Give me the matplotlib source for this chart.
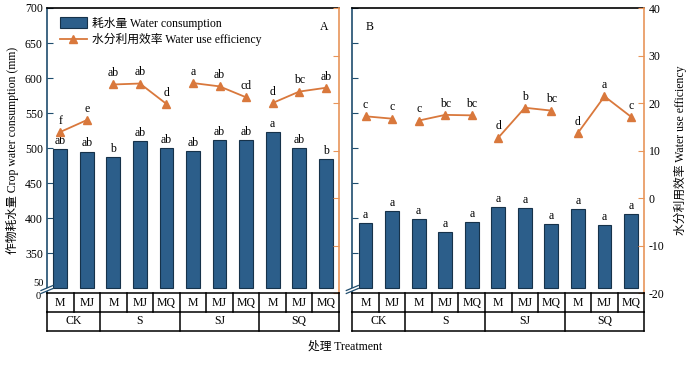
import matplotlib
matplotlib.use("Agg")
import matplotlib.pyplot as plt
import numpy as np
from matplotlib.patches import Rectangle, Polygon
from matplotlib.lines import Line2D

plt.rcParams['font.family'] = ['Liberation Serif', 'Noto Sans CJK SC']
plt.rcParams['axes.unicode_minus'] = False

treat = ['M', 'MJ', 'M', 'MJ', 'MQ', 'M', 'MJ', 'MQ', 'M', 'MJ', 'MQ']
groups = ['CK', 'S', 'SJ', 'SQ']
group_sizes = [2, 3, 3, 3]

wc_A = [499, 495, 487, 510, 500, 496, 511, 512, 523, 500, 484]
wc_A_sig = ['ab', 'ab', 'b', 'ab', 'ab', 'ab', 'ab', 'ab', 'a', 'ab', 'b']
wue_A = [13.9, 16.4, 23.9, 24.1, 19.8, 24.2, 23.5, 21.2, 20.0, 22.4, 23.2]
wue_A_sig = ['f', 'e', 'ab', 'ab', 'd', 'a', 'ab', 'cd', 'd', 'bc', 'ab']

wc_B = [393, 410, 399, 380, 394, 416, 414, 392, 413, 390, 406]
wc_B_sig = ['a'] * 11
wue_B = [17.2, 16.7, 16.3, 17.5, 17.4, 12.7, 19.0, 18.4, 13.7, 21.4, 17.1]
wue_B_sig = ['c', 'c', 'c', 'bc', 'bc', 'd', 'b', 'bc', 'd', 'a', 'c']

BLUE = '#2c5e8a'
SPINE_BLUE = '#1f4d6e'
ORANGE = '#d9783c'
ORANGE_SP = '#e8955a'

W, H = 697, 389
fig = plt.figure(figsize=(W / 100, H / 100), dpi=100)

def fr(x0, y0, x1, y1):
    return [x0 / W, 1 - y1 / H, (x1 - x0) / W, (y1 - y0) / H]

LEFT_LIM = (292.9, 700)
RIGHT_LIM = (-20, 40)
FS = 8.5

def panel(px0, px1, wc, wc_sig, wue, wue_sig, letter, show_left, show_right):
    ax = fig.add_axes(fr(px0, 8, px1, 293))
    x = np.arange(len(wc))
    ax.bar(x, np.array(wc) - 300, bottom=300, width=0.52, color=BLUE,
           edgecolor='#16324a', linewidth=0.8, zorder=2)
    for xi, v, s in zip(x, wc, wc_sig):
        ax.text(xi, v + 3, s, ha='center', va='bottom', fontsize=FS)
    ax.set_xlim(-0.5, len(wc) - 0.5)
    ax.set_ylim(*LEFT_LIM)
    ax.set_xticks([])
    ticks = list(range(300, 701, 50))
    ax.set_yticks(ticks)
    if show_left:
        ax.set_yticklabels([''] + [str(t) for t in ticks[1:]], fontsize=FS)
    else:
        ax.set_yticklabels([])
    ax.tick_params(axis='y', direction='in', length=4, color=SPINE_BLUE, pad=3)
    ax.spines['left'].set_color(SPINE_BLUE)
    ax.spines['left'].set_linewidth(1.2)
    ax.spines['top'].set_color('black')
    ax.spines['top'].set_linewidth(1.2)
    ax.spines['bottom'].set_visible(False)
    ax.spines['right'].set_visible(False)

    ax2 = ax.twinx()
    ax2.set_ylim(*RIGHT_LIM)
    ax2.set_yticks(range(-20, 41, 10))
    if show_right:
        ax2.set_yticklabels([str(t) for t in range(-20, 41, 10)], fontsize=FS)
    else:
        ax2.set_yticklabels([])
    ax2.tick_params(axis='y', direction='in', length=4, color=ORANGE_SP, pad=3)
    for sp in ['left', 'top', 'bottom']:
        ax2.spines[sp].set_visible(False)
    ax2.spines['right'].set_color(ORANGE_SP)
    ax2.spines['right'].set_linewidth(1.2)
    start = 0
    for n in group_sizes:
        xs = x[start:start + n]
        ax2.plot(xs, wue[start:start + n], color=ORANGE, marker='^',
                 markersize=5.5, linewidth=1.3, zorder=3)
        start += n
    for xi, v, s in zip(x, wue, wue_sig):
        ax2.text(xi, v + 1.1, s, ha='center', va='bottom', fontsize=FS)
    # table
    tax = fig.add_axes(fr(px0, 293, px1, 331))
    tax.set_xlim(-0.5, len(wc) - 0.5)
    tax.set_ylim(0, 2)
    tax.axis('off')
    lw = 1.1
    tax.plot([-0.5, 10.5], [2, 2], color='black', lw=lw, clip_on=False)
    tax.plot([-0.5, 10.5], [1, 1], color='black', lw=lw, clip_on=False)
    tax.plot([-0.5, 10.5], [0, 0], color='black', lw=lw, clip_on=False)
    for b in np.arange(-0.5, 11, 1):
        tax.plot([b, b], [1, 2], color='black', lw=lw, clip_on=False)
    for xi, t in enumerate(treat):
        tax.text(xi, 1.5, t, ha='center', va='center', fontsize=FS)
    start = 0
    bounds = [-0.5]
    for g, n in zip(groups, group_sizes):
        tax.text(start + (n - 1) / 2, 0.5, g, ha='center', va='center', fontsize=FS)
        start += n
        bounds.append(start - 0.5)
    for b in bounds:
        tax.plot([b, b], [0, 1], color='black', lw=lw, clip_on=False)
    ax.text(0.95 if letter == 'A' else 0.06, 0.935, letter, transform=ax.transAxes,
            ha='center', va='center', fontsize=FS)
    return ax, ax2

axA, axA2 = panel(47, 339, wc_A, wc_A_sig, wue_A, wue_A_sig, 'A', True, False)
axB, axB2 = panel(352.3, 644.3, wc_B, wc_B_sig, wue_B, wue_B_sig, 'B', False, True)

# break marks
def brk(xc, yc, color):
    pts = lambda x, y: (x / W, 1 - y / H)
    poly = Polygon([pts(xc - 6, yc + 1.5), pts(xc + 6, yc - 3.5),
                    pts(xc + 6, yc - 0.5), pts(xc - 6, yc + 4.5)],
                   closed=True, transform=fig.transFigure, facecolor='white',
                   edgecolor='none', zorder=10)
    fig.add_artist(poly)
    for d in (0, 3):
        l = Line2D([(xc - 6) / W, (xc + 6) / W],
                   [1 - (yc + 1.5 + d) / H, 1 - (yc - 3.5 + d) / H],
                   transform=fig.transFigure, color=color, lw=0.9, zorder=11)
        fig.add_artist(l)

brk(47, 289, SPINE_BLUE)
brk(352.3, 289, SPINE_BLUE)
fig.text(38.5 / W, 1 - 284 / H, '50', ha='center', va='center', fontsize=7.5)
fig.text(38.5 / W, 1 - 296.5 / H, '0', ha='center', va='center', fontsize=7.5)

# legend
handles = [Rectangle((0, 0), 1, 1, facecolor=BLUE, edgecolor='#16324a', linewidth=0.8),
           Line2D([0], [0], color=ORANGE, marker='^', markersize=5.5, linewidth=1.3)]
axA.legend(handles, ['耗水量 Water consumption', '水分利用效率 Water use efficiency'],
           loc='upper left', bbox_to_anchor=(0.02, 0.995), frameon=False, fontsize=FS,
           handlelength=2.3, handleheight=1.0, handletextpad=0.4,
           labelspacing=0.3, borderaxespad=0.2)

fig.text(12 / W, 1 - 150 / H, '作物耗水量 Crop water consumption (mm)', rotation=90,
         ha='center', va='center', fontsize=FS)
fig.text(680 / W, 1 - 150 / H, '水分利用效率 Water use efficiency', rotation=90,
         ha='center', va='center', fontsize=FS)
fig.text(345 / W, 1 - 347 / H, '处理 Treatment', ha='center', va='center', fontsize=FS)

fig.savefig('out.png', dpi=100)
